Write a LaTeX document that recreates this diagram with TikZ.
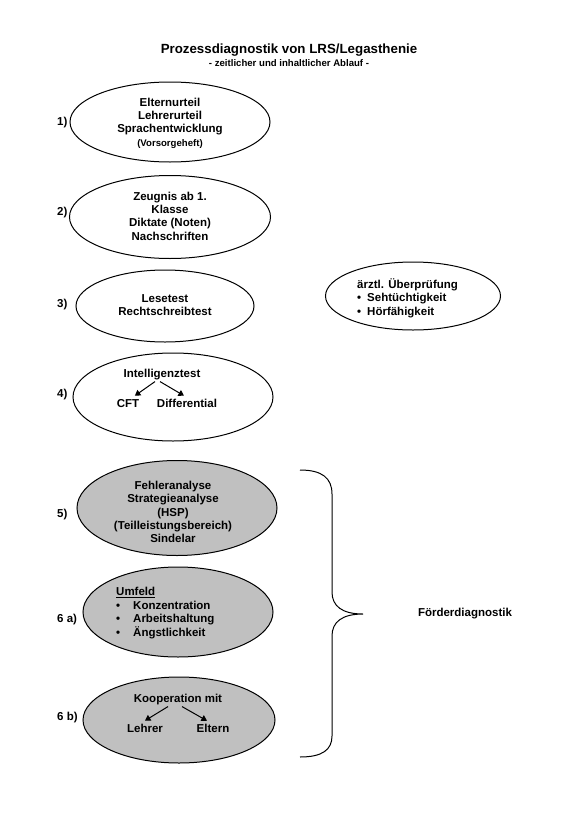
\documentclass[tikz,border=0pt]{standalone}
\usepackage{fontspec}
\setmainfont{Liberation Sans}
\usetikzlibrary{shapes.geometric,arrows.meta}
\definecolor{ovalgray}{RGB}{192,192,192}

\begin{document}
\begin{tikzpicture}[x=1pt, y=-1pt, every node/.style={font=\bfseries\fontsize{11.5}{13.4}\selectfont, inner sep=1pt},
  oval/.style={ellipse, draw, line width=1pt, inner sep=0pt},
  grayoval/.style={oval, fill=ovalgray},
  txt/.style={align=center},
  tri/.style={-{Triangle[length=5.5pt,width=6.5pt]}, line width=1pt, shorten >=3.5pt}]
  \useasboundingbox (0,0) rectangle (578,817);
  \node[font=\bfseries\fontsize{13.3}{15}\selectfont] (title) at (289,50) {Prozessdiagnostik von LRS/Legasthenie};
  \node[font=\bfseries\fontsize{9.6}{11}\selectfont] (subtitle) at (289,63) {- zeitlicher und inhaltlicher Ablauf -};

  \node[oval, minimum width=200pt, minimum height=80pt] (E1) at (170,122) {};
  \node[oval, minimum width=201pt, minimum height=83pt] (E2) at (170,217) {};
  \node[oval, minimum width=178pt, minimum height=72pt] (E3) at (165,306) {};
  \node[oval, minimum width=200pt, minimum height=88pt] (E4) at (173,397) {};
  \node[grayoval, minimum width=200pt, minimum height=95pt] (E5) at (177,508) {};
  \node[grayoval, minimum width=190pt, minimum height=90pt] (E6a) at (178,612) {};
  \node[grayoval, minimum width=192pt, minimum height=86pt] (E6b) at (179,720) {};
  \node[oval, minimum width=175pt, minimum height=68pt] (Earzt) at (413,296) {};

  \node[anchor=west] (L1) at (56,123) {1)};   \node[anchor=west] (L2) at (56,213) {2)};
  \node[anchor=west] (L3) at (56,305) {3)};   \node[anchor=west] (L4) at (56,395) {4)};
  \node[anchor=west] (L5) at (56,515) {5)};   \node[anchor=west] (L6a) at (56,620) {6 a)};
  \node[anchor=west] (L6b) at (56,718) {6 b)};

  \node[txt] (T1) at (170,123) {Elternurteil\\Lehrerurteil\\Sprachentwicklung\\{\fontsize{9.6}{11}\selectfont(Vorsorgeheft)}};
  \node[txt] (T2) at (170,216) {Zeugnis ab 1.\\Klasse\\Diktate (Noten)\\Nachschriften};
  \node[txt] (T3) at (165,305) {Lesetest\\Rechtschreibtest};
  \node (intel) at (162,375) {Intelligenztest};
  \node[anchor=base] (cft) at (128,407) {CFT}; \node[anchor=base] (diff) at (187,407) {Differential};
  \node[txt] (T5) at (173,512) {Fehleranalyse\\Strategieanalyse\\(HSP)\\(Teilleistungsbereich)\\Sindelar};
  \node[align=left, anchor=west] (T6a) at (115,613) {\underline{Umfeld}\\\textbullet\hspace{13pt}Konzentration\\\textbullet\hspace{13pt}Arbeitshaltung\\\textbullet\hspace{13pt}Ängstlichkeit};
  \node (koop) at (178,700) {Kooperation mit};
  \node[anchor=base] (lehrer) at (145,732) {Lehrer}; \node[anchor=base] (eltern) at (213,732) {Eltern};
  \node[align=left, anchor=west] (Tarzt) at (356,298) {ärztl. Überprüfung\\\textbullet\hspace{6pt}Sehtüchtigkeit\\\textbullet\hspace{6pt}Hörfähigkeit};

  \draw[tri] ([xshift=-7pt]intel.south) -- ([xshift=4pt]cft.north);
  \draw[tri] ([xshift=-2pt]intel.south) -- (diff.north);
  \draw[tri] ([xshift=-10pt]koop.south) -- ([xshift=-3pt]lehrer.north);
  \draw[tri] ([xshift=4pt]koop.south) -- ([xshift=-3pt]eltern.north);

  \coordinate (btop) at (300,470); \coordinate (btip) at (363,614); \coordinate (bbot) at (300,757);
  \draw[line width=1pt] (btop) .. controls (322,470) and (332,478) .. (332,494) -- (332,592)
    .. controls (332,606) and (342,614) .. (btip) .. controls (342,614) and (332,622) .. (332,636)
    -- (332,736) .. controls (332,750) and (322,757) .. (bbot);
  \node (foerder) at (465,614) {Förderdiagnostik};
\end{tikzpicture}
\end{document}
